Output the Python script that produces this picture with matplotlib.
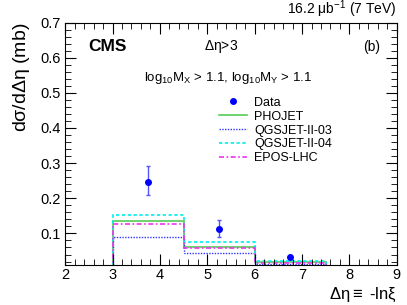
import numpy as np
import matplotlib
matplotlib.use('Agg')
import matplotlib.pyplot as plt
from matplotlib.ticker import MultipleLocator
from matplotlib.lines import Line2D

plt.rcParams['font.family'] = ['Liberation Sans', 'DejaVu Sans']
plt.rcParams['mathtext.fontset'] = 'custom'
plt.rcParams['mathtext.rm'] = 'Liberation Sans'
plt.rcParams['mathtext.it'] = 'Liberation Sans'

# bin edges and model predictions (mb)
edges = [2, 3, 4.5, 6, 7.5, 9]
phojet = [0.0, 0.135, 0.061, 0.018, 0.0]
qgsjet03 = [0.0, 0.089, 0.045, 0.013, 0.0]
qgsjet04 = [0.0, 0.151, 0.075, 0.022, 0.0]
epos = [0.0, 0.126, 0.059, 0.015, 0.0]

# data points
data_x = [3.75, 5.25, 6.75]
data_y = [0.246, 0.112, 0.032]
err_lo = [0.036, 0.023, 0.005]
err_hi = [0.047, 0.027, 0.005]

fig = plt.figure(figsize=(4.07, 3.05), dpi=100)
ax = fig.add_axes([0.16, 0.131, 0.815, 0.795])

def hist(vals, **kw):
    ax.stairs(vals, edges, baseline=None, **kw)

hist(phojet, color='#55cc55', lw=1.2, ls='-', label='PHOJET')
hist(qgsjet03, color='#3333ff', lw=1.0, ls=(0, (1, 1)), label='QGSJET-II-03')
hist(qgsjet04, color='#00eeee', lw=1.2, ls=(0, (2, 1.5)), label='QGSJET-II-04')
hist(epos, color='#ee33ee', lw=1.2, ls=(0, (3, 1.5, 1, 1.5)), label='EPOS-LHC')
ax.errorbar(data_x, data_y, yerr=[err_lo, err_hi], fmt='o', color='#0000ff',
            ecolor='#5555ff', ms=4, elinewidth=1, capsize=1.5)

ax.set_xlim(2, 9)
ax.set_ylim(0.01, 0.7)
ax.xaxis.set_major_locator(MultipleLocator(1))
ax.xaxis.set_minor_locator(MultipleLocator(0.2))
ax.yaxis.set_minor_locator(MultipleLocator(0.02))
ax.set_yticks([0.1, 0.2, 0.3, 0.4, 0.5, 0.6, 0.7])
ax.tick_params(which='both', direction='in', top=True, right=True, labelsize=10.5)
ax.tick_params(which='major', length=8)
ax.tick_params(which='minor', length=4)
ax.tick_params(axis='x', pad=2)

ax.set_ylabel(r'd$\sigma$/d$\Delta\eta$ (mb)', fontsize=14, loc='top', labelpad=6)
ax.text(1.0, -0.085, r'$\Delta\eta\equiv$ -ln$\xi$', transform=ax.transAxes,
        fontsize=12, ha='right', va='top')

ax.text(0.07, 0.9, 'CMS', transform=ax.transAxes, fontsize=12.5, fontweight='bold',
        va='center')
ax.text(0.42, 0.9, r'$\Delta\eta$>3', transform=ax.transAxes, fontsize=10, va='center')
ax.text(0.95, 0.9, '(b)', transform=ax.transAxes, fontsize=10, va='center', ha='right')
ax.text(0.49, 0.77, r'log$_{10}$M$_X$ > 1.1, log$_{10}$M$_Y$ > 1.1',
        transform=ax.transAxes, fontsize=9.5, va='center', ha='center')
ax.text(1.0, 1.01, r'16.2 $\mu$b$^{-1}$ (7 TeV)', transform=ax.transAxes,
        fontsize=10, ha='right', va='bottom')

h, l = ax.get_legend_handles_labels()
data_handle = Line2D([], [], ls='none', marker='o', ms=4, color='#0000ff')
ax.legend([data_handle] + h, ['Data'] + l, loc='upper left',
          bbox_to_anchor=(0.43, 0.74), frameon=False, fontsize=9,
          handlelength=2.2, labelspacing=0.15, handletextpad=0.6)

fig.savefig('out.png', dpi=100)
